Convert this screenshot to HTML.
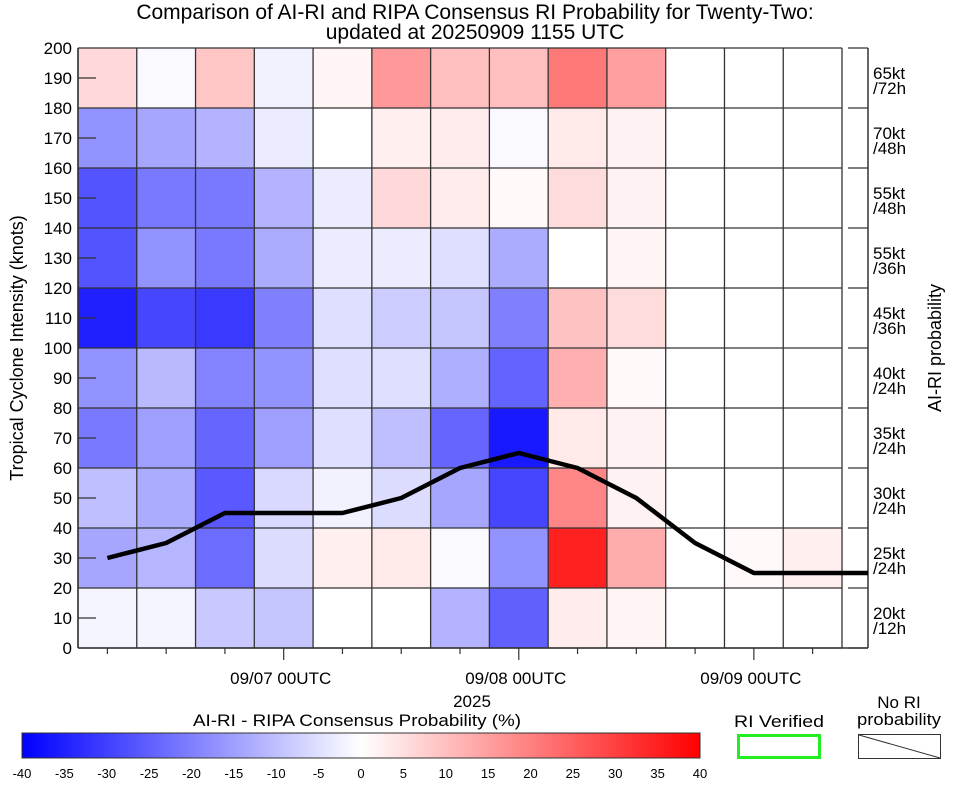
<!DOCTYPE html>
<html><head><meta charset="utf-8"><style>
body{margin:0;background:#fff}
svg{display:block;font-family:"Liberation Sans",sans-serif}
</style></head><body>
<svg id="chart" width="964" height="786" viewBox="0 0 964 786" xmlns="http://www.w3.org/2000/svg">
<text x="475" y="19" font-size="21" text-anchor="middle">Comparison of AI-RI and RIPA Consensus RI Probability for Twenty-Two:</text>
<text x="475" y="39" font-size="21" text-anchor="middle">updated at 20250909 1155 UTC</text>
<g id="cells"></g>
<g id="grid"></g>
<g id="axes"></g>
<text transform="translate(23,348) rotate(-90)" font-size="18" text-anchor="middle">Tropical Cyclone Intensity (knots)</text>
<text transform="translate(941,348) rotate(-90)" font-size="18" text-anchor="middle">AI-RI probability</text>
<text x="472" y="707" font-size="17" text-anchor="middle">2025</text>
<text x="357" y="726" font-size="17" text-anchor="middle" textLength="328" lengthAdjust="spacingAndGlyphs">AI-RI - RIPA Consensus Probability (%)</text>
<defs><linearGradient id="cg" x1="0" x2="1" y1="0" y2="0">
<stop offset="0" stop-color="#0000ff"/><stop offset="0.5" stop-color="#ffffff"/><stop offset="1" stop-color="#ff0000"/></linearGradient></defs>
<rect x="22" y="733" width="678" height="25" fill="url(#cg)" stroke="#333" stroke-width="1"/>
<g id="cbticks"></g>
<text x="779" y="727" font-size="17" text-anchor="middle" textLength="90" lengthAdjust="spacingAndGlyphs">RI Verified</text>
<rect x="738.5" y="735.5" width="81" height="22" fill="#fff" stroke="#22ee22" stroke-width="3"/>
<text x="899" y="708" font-size="17" text-anchor="middle">No RI</text>
<text x="899" y="725" font-size="17" text-anchor="middle" textLength="84" lengthAdjust="spacingAndGlyphs">probability</text>
<rect x="858.5" y="734.5" width="82" height="24" fill="#fff" stroke="#333"/>
<line x1="859" y1="735" x2="940" y2="758" stroke="#333"/>
</svg>
<script>
const rowLabels=[["65kt","/72h"],["70kt","/48h"],["55kt","/48h"],["55kt","/36h"],["45kt","/36h"],["40kt","/24h"],["35kt","/24h"],["30kt","/24h"],["25kt","/24h"],["20kt","/12h"]];
const diffValues=[
[6,-1,9,-2,1.5,16,10,10,21,15,0,0,0],
[-17,-14,-12,-3,0,2.5,3,-1,3.5,2,0,0,0],
[-27,-21,-21,-12,-3,6,3,1,5.5,2,0,0,0],
[-27,-17,-21,-13,-3,-3,-5,-13,0,1.5,0,0,0],
[-35,-29,-31,-20,-5,-8,-9,-20,9.5,5.5,0,0,0],
[-17,-11,-19.5,-17,-5,-5,-12.5,-24.5,12.5,1,0,0,0],
[-21,-15,-24,-15,-5,-10,-24,-36,3.5,2,0,0,0],
[-10,-13,-26,-6,-2,-5.5,-14,-29,19,2,0,0,0],
[-14,-11.5,-23,-5.5,2.5,3.5,-1,-17,35,13,0,1,2.5],
[-1.5,-1.5,-8.5,-9,0,0,-12,-25,3,1.5,0,0,0]];
const intensity=[30,35,45,45,45,50,60,65,60,50,35,25,25,25];
const dateLabels=["09/07 00UTC","09/08 00UTC","09/09 00UTC"];
const dateCols=[3,7,11];
const cbTicks=[-40,-35,-30,-25,-20,-15,-10,-5,0,5,10,15,20,25,30,35,40];
const yTicks=[0,10,20,30,40,50,60,70,80,90,100,110,120,130,140,150,160,170,180,190,200];

const NS="http://www.w3.org/2000/svg";
const L=78,R=868,T=48,B=648,CW=58.77,NC=13;
const colX=i=>L+CW*i;
const colC=i=>L+CW*(i+0.5);
const yK=k=>B-(B-T)*k/200;
const rowY=r=>T+60*r;
const cbX=v=>22+678*(v+40)/80;
function mk(tag,attrs,parent){const e=document.createElementNS(NS,tag);for(const k in attrs)e.setAttribute(k,attrs[k]);parent.appendChild(e);return e;}
function col(v){const t=Math.min(Math.abs(v)/40,1);const c=Math.round(255*(1-t));return v<0?`rgb(${c},${c},255)`:`rgb(255,${c},${c})`;}
const cells=document.getElementById('cells'),grid=document.getElementById('grid'),axes=document.getElementById('axes');
diffValues.forEach((row,r)=>row.forEach((v,c)=>{
 const e=mk('rect',{x:colX(c),y:rowY(r),width:CW,height:60,fill:col(v)},cells);
 
 
}));
for(let c=0;c<=NC;c++)mk('line',{x1:colX(c),y1:T,x2:colX(c),y2:B,stroke:'#333','stroke-width':1.3},grid);
for(let r=0;r<=10;r++){mk('line',{x1:L,y1:rowY(r),x2:colX(NC),y2:rowY(r),stroke:'#333','stroke-width':1.3},grid);
 mk('line',{x1:848,y1:rowY(r),x2:R,y2:rowY(r),stroke:'#333','stroke-width':1.3},grid);}
mk('line',{x1:L,y1:T,x2:L,y2:B,stroke:'#333','stroke-width':1.5},axes);
mk('line',{x1:R,y1:T,x2:R,y2:B,stroke:'#333','stroke-width':1.5},axes);
mk('line',{x1:L,y1:B,x2:R,y2:B,stroke:'#333','stroke-width':1.5},axes);
yTicks.forEach(k=>{
 const t=mk('text',{x:72,y:yK(k)+6,'font-size':17,'text-anchor':'end'},axes);t.textContent=k;
 
 
 if(k%20===10)mk('line',{x1:L,y1:yK(k),x2:L+18,y2:yK(k),stroke:'#333','stroke-width':1.2},axes);
});
rowLabels.forEach((lb,r)=>{
 const t=mk('text',{x:873,y:rowY(r)+31,'font-size':17},axes);t.textContent=lb[0];
 
 
 const t2=mk('text',{x:873,y:rowY(r)+46,'font-size':17},axes);t2.textContent=lb[1];
 
 
});
for(let c=0;c<NC;c++){const maj=dateCols.includes(c);mk('line',{x1:colC(c),y1:B,x2:colC(c),y2:B+(maj?12:6),stroke:'#333','stroke-width':1.2},axes);}
dateLabels.forEach((d,i)=>{const t=mk('text',{x:colC(dateCols[i])-3,y:684,'font-size':17,'text-anchor':'middle'},axes);t.textContent=d;
 
 });
const xs=intensity.map((k,i)=>i<NC?colC(i):R);
const pts=intensity.map((k,i)=>xs[i]+','+yK(k)).join(' ');
const ln=mk('polyline',{points:pts,fill:'none',stroke:'#000','stroke-width':4.5,'stroke-linejoin':'round'},axes);


const cb=document.getElementById('cbticks');
cbTicks.forEach(v=>{
 const t=mk('text',{x:cbX(v),y:778,'font-size':13,'text-anchor':'middle'},cb);t.textContent=v;
 
 
});
</script>
</body></html>
